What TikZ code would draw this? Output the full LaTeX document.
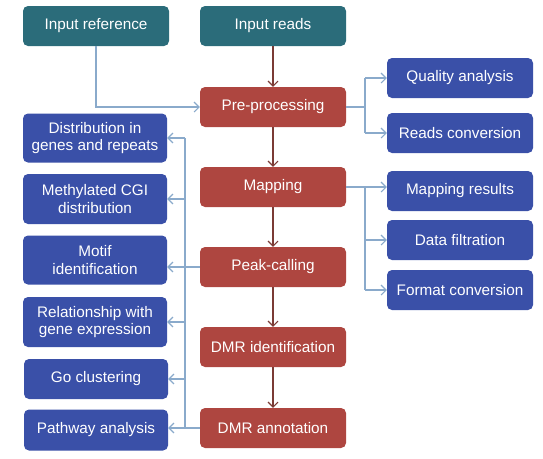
\documentclass[tikz,border=0pt]{standalone}
\usepackage{fontspec}
\setmainfont{Liberation Sans}
\usetikzlibrary{arrows.meta}
\definecolor{inputcol}{HTML}{2B6C7A}
\definecolor{stepcol}{HTML}{AE4640}
\definecolor{outcol}{HTML}{3A50A8}
\definecolor{flowcol}{HTML}{7B3B35}
\definecolor{linkcol}{HTML}{8AAACB}

\begin{document}
\begin{tikzpicture}[x=1pt,y=-1pt,
    box/.style={rounded corners=5pt,text=white,align=center,inner sep=0pt,
      minimum width=146pt,minimum height=40pt,
      font=\fontsize{15.3}{17.5}\selectfont},
    inbox/.style={box,fill=inputcol},
    stepbox/.style={box,fill=stepcol},
    outbox/.style={box,fill=outcol},
    leftbox/.style={outbox,minimum width=144pt},
    flow/.style={draw=flowcol,line width=1.1pt},
    link/.style={draw=linkcol,line width=1.1pt},
    tip/.style={-{Straight Barb[length=5pt,width=10pt]}}]
      \useasboundingbox (0,0) rectangle (543,458) ;
      % inputs
      \node[inbox] (inref) at (96,26) {Input reference} ;
      \node[inbox] (inrd) at (273,26) {Input reads} ;
      % main pipeline
      \node[stepbox] (pre) at (273,107) {Pre-processing} ;
      \node[stepbox] (map) at (273,187) {Mapping} ;
      \node[stepbox] (peak) at (273,267) {Peak-calling} ;
      \node[stepbox] (dmrid) at (273,347) {DMR identification} ;
      \node[stepbox] (dmran) at (273,428) {DMR annotation} ;
      % right outputs
      \node[outbox] (qual) at (460,78) {Quality analysis} ;
      \node[outbox] (conv) at (460,133) {Reads conversion} ;
      \node[outbox] (mres) at (460,191) {Mapping results} ;
      \node[outbox] (filt) at (460,240) {Data filtration} ;
      \node[outbox] (fmt) at (460,290) {Format conversion} ;
      % left outputs
      \node[leftbox,minimum height=49pt] (dist) at (95,138) {Distribution in\\genes and repeats} ;
      \node[leftbox,minimum height=50pt] (meth) at (95,199) {Methylated CGI\\distribution} ;
      \node[leftbox,minimum height=49pt] (motif) at (95,260) {Motif\\identification} ;
      \node[leftbox,minimum height=50pt] (rel) at (95,322) {Relationship with\\gene expression} ;
      \node[leftbox] (go) at (96,379) {Go clustering} ;
      \node[leftbox,minimum height=41pt] (path) at (96,430) {Pathway analysis} ;
      % trunks
      \coordinate (lt) at (185,0) ;
      \coordinate (rt) at (365,0) ;
      % arrows down the pipeline
      \draw[flow,tip] (inrd) -- (pre) ;
      \draw[flow,tip] (pre) -- (map) ;
      \draw[flow,tip] (map) -- (peak) ;
      \draw[flow,tip] (peak) -- (dmrid) ;
      \draw[flow,tip] (dmrid) -- (dmran) ;
      \draw[link,tip] (inref.south) |- (pre.west) ;
      % right side
      \draw[link] (pre.east) -- (pre.east -| rt) ;
      \draw[link] (rt |- qual) -- (rt |- conv) ;
      \draw[link,tip] (rt |- qual) -- (qual.west) ;
      \draw[link,tip] (rt |- conv) -- (conv.west) ;
      \draw[link,tip] (map.east) -- (map.east -| mres.west) ;
      \draw[link] (rt |- map) -- (rt |- fmt) ;
      \draw[link,tip] (rt |- filt) -- (filt.west) ;
      \draw[link,tip] (rt |- fmt) -- (fmt.west) ;
      % left side
      \draw[link,tip] (peak.west) -- (peak.west -| motif.east) ;
      \draw[link,tip] (dmran.west) -- (dmran.west -| path.east) ;
      \draw[link] (lt |- dist) -- (lt |- dmran) ;
      \foreach \b in {dist,meth,rel,go}
        \draw[link,tip] (lt |- \b) -- (\b.east) ;
\end{tikzpicture}
\end{document}
